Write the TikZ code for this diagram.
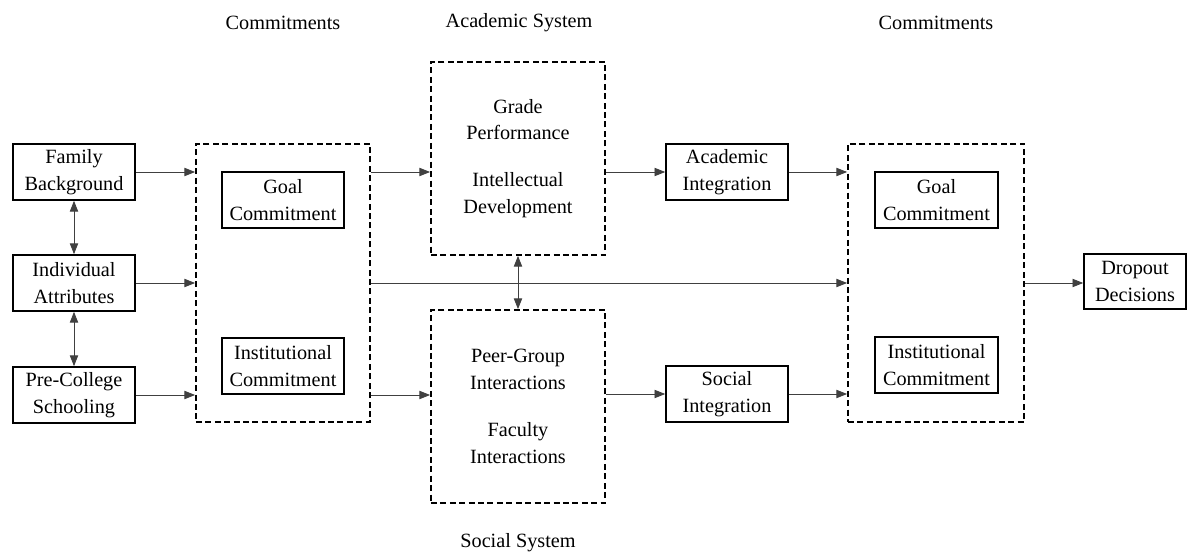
\documentclass[tikz,border=0pt]{standalone}
\usepackage{fontspec}
\setmainfont{Liberation Serif}
\usepackage{tikz}
\usetikzlibrary{arrows.meta}

\begin{document}
\begin{tikzpicture}[
		x=0.0205cm, y=-0.0205cm,
		every node/.style={font=\fontsize{11.8}{15.5}\selectfont, align=center},
		factor/.style={draw, line width=0.9pt, minimum width=2.5cm, minimum height=1.15cm, inner sep=1pt},
		group/.style={draw, line width=0.9pt, dash pattern=on 3.5pt off 2pt},
		link/.style={-{Triangle[length=2.2mm,width=1.7mm]}, line width=0.5pt, draw=black!75},
		both/.style={{Triangle[length=2.2mm,width=1.7mm]}-{Triangle[length=2.2mm,width=1.7mm]}, line width=0.5pt, draw=black!75}
	]
	\useasboundingbox (0,0) rectangle (1187,554);

	% background of the student
	\node[factor] (fam) at (74,172) {Family\\Background};
	\node[factor] (ind) at (74,283) {Individual\\Attributes};
	\node[factor] (pre) at (74,395) {Pre-College\\Schooling};

	% initial commitments
	\node[group, minimum width=3.57cm, minimum height=5.7cm] (cmL) at (283,283) {};
	\node[factor] (goalL) at (283,200) {Goal\\Commitment};
	\node[factor] (instL) at (283,366) {Institutional\\Commitment};

	% the two systems
	\node[group, minimum width=3.57cm, minimum height=3.96cm] (acad) at (518,158.5) {Grade\\Performance\\[12pt]Intellectual\\Development};
	\node[group, minimum width=3.57cm, minimum height=3.96cm] (soc) at (518,406.5) {Peer-Group\\Interactions\\[12pt]Faculty\\Interactions};

	\node[factor] (acInt) at (727,172) {Academic\\Integration};
	\node[factor] (soInt) at (727,394) {Social\\Integration};

	% later commitments
	\node[group, minimum width=3.61cm, minimum height=5.7cm] (cmR) at (936,283) {};
	\node[factor, minimum width=2.52cm] (goalR) at (936.5,200) {Goal\\Commitment};
	\node[factor, minimum width=2.52cm] (instR) at (936.5,365) {Institutional\\Commitment};

	\node[factor, minimum width=2.09cm, minimum height=1.13cm] (drop) at (1135,281.5) {Dropout\\Decisions};

	% headings
	\node (hdL) at (283,23) {Commitments};
	\node (hdA) at (519,23) {Academic System};
	\node (hdR) at (936,23) {Commitments};
	\node (hdS) at (518,543) {Social System};

	% arrows
	\foreach \src in {fam,ind,pre}
		\draw[link] (\src.east) -- (\src -| cmL.west);
	\draw[both] (fam) -- (ind);
	\draw[both] (ind) -- (pre);
	\draw[link] (fam -| cmL.east) -- (fam -| acad.west);
	\draw[link] (pre -| cmL.east) -- (pre -| soc.west);
	\draw[link] (ind -| cmL.east) -- (ind -| cmR.west);
	\draw[both] (acad.south) -- (soc.north);
	\draw[link] (acInt -| acad.east) -- (acInt.west);
	\draw[link] (soInt -| soc.east) -- (soInt.west);
	\draw[link] (acInt.east) -- (acInt -| cmR.west);
	\draw[link] (soInt.east) -- (soInt -| cmR.west);
	\draw[link] (cmR.east) -- (cmR.east -| drop.west);
\end{tikzpicture}
\end{document}
